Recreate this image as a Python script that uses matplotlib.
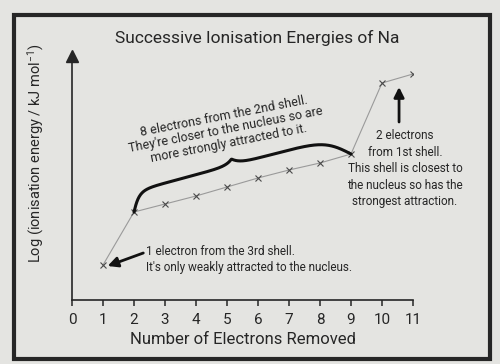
import numpy as np
import matplotlib.pyplot as plt
from matplotlib.patches import Rectangle

plt.rcParams['font.family'] = ['Roboto', 'DejaVu Sans']
plt.rcParams['mathtext.fontset'] = 'custom'
plt.rcParams['mathtext.rm'] = 'Roboto'
plt.rcParams['mathtext.it'] = 'Roboto'

electrons = [1, 2, 3, 4, 5, 6, 7, 8, 9, 10, 11]
# log ionisation energy (arbitrary units)
log_ie = [0.35, 0.88, 0.96, 1.04, 1.13, 1.22, 1.30, 1.37, 1.46, 2.17, 2.26]
xticks = list(range(0, 12))

bg = '#e4e4e1'
ink = '#262626'

fig = plt.figure(figsize=(5, 3.64), dpi=100, facecolor=bg)
ax = fig.add_axes([0.144, 1 - 300 / 364, 0.682, 248 / 364])
ax.set_facecolor('none')
ax.set_xlim(0, 11)
ax.set_ylim(0, 2.48)

# frame round the whole chart
fig.patches.append(Rectangle((14 / 500, 1 - 359 / 364), 476 / 500, 344 / 364,
                             transform=fig.transFigure, fill=False,
                             lw=3, edgecolor=ink))

for s in ['top', 'right']:
    ax.spines[s].set_visible(False)
ax.spines['left'].set_bounds(0, 2.40)
ax.spines['left'].set_color(ink)
ax.spines['bottom'].set_color(ink)
ax.spines['left'].set_linewidth(1.2)
ax.spines['bottom'].set_linewidth(1.2)
ax.plot(0, 2.44, marker='^', color=ink, markersize=8, clip_on=False)

ax.set_xticks(xticks)
ax.set_yticks([])
ax.tick_params(axis='x', direction='out', length=4, width=1.1, color=ink,
               labelsize=11, labelcolor=ink, pad=5)
ax.set_xlabel('Number of Electrons Removed', fontsize=12, color=ink, labelpad=4)
ax.set_ylabel('Log (ionisation energy / kJ mol$^{-1}$)', fontsize=10.5,
              color=ink, labelpad=12)
ax.yaxis.set_label_coords(-0.075, 0.59)

fig.text(0.514, 1 - 38 / 364, 'Successive Ionisation Energies of Na',
         ha='center', va='center', fontsize=12.5, color=ink)

ax.plot(electrons, log_ie, color='#9a9a9a', lw=0.8, marker='x',
        markersize=5, markeredgecolor='#4a4a4a', markeredgewidth=0.8)

# curly brace over electrons 2-9, built in pixel space from the two end points
fig.canvas.draw()
p0 = ax.transData.transform((electrons[1], log_ie[1]))
p1 = ax.transData.transform((electrons[8], log_ie[8]))
d = p1 - p0
length = np.hypot(*d)
u = d / length
nrm = np.array([-u[1], u[0]])
s_px = np.linspace(0, length, 500)
rise = np.tanh(s_px / 11) * np.tanh((length - s_px) / 22)
cusp = np.exp(-np.abs(s_px - 0.48 * length) / 7)
offset = 20 * rise + 6 * cusp * rise
pts = p0 + np.outer(s_px, u) + np.outer(offset, nrm)
pts_data = ax.transData.inverted().transform(pts)
ax.plot(pts_data[:, 0], pts_data[:, 1], color='#111111', lw=2.2,
        solid_capstyle='round')

ax.text(4.97, 1.70, "8 electrons from the 2nd shell.\nThey're closer to the nucleus so are\n"
        "more strongly attracted to it.", ha='center', va='center',
        rotation=11, rotation_mode='anchor', fontsize=9, color=ink,
        linespacing=1.1)

ax.text(10.74, 1.31, '2 electrons\nfrom 1st shell.\nThis shell is closest to\n'
        'the nucleus so has the\nstrongest attraction.', ha='center',
        va='center', fontsize=8.5, color=ink, linespacing=1.35)
ax.annotate('', xy=(10.55, 2.13), xytext=(10.55, 1.78),
            arrowprops=dict(arrowstyle='-|>', lw=2, color='#111111',
                            mutation_scale=15, shrinkA=0, shrinkB=0))

ax.text(2.4, 0.40, "1 electron from the 3rd shell.\nIt's only weakly attracted to the nucleus.",
        ha='left', va='center', fontsize=8.5, color=ink, linespacing=1.3)
ax.annotate('', xy=(1.15, 0.34), xytext=(2.3, 0.47),
            arrowprops=dict(arrowstyle='-|>', lw=2, color='#111111',
                            mutation_scale=15, shrinkA=0, shrinkB=0))

fig.savefig('out.png', dpi=100, facecolor=bg)
